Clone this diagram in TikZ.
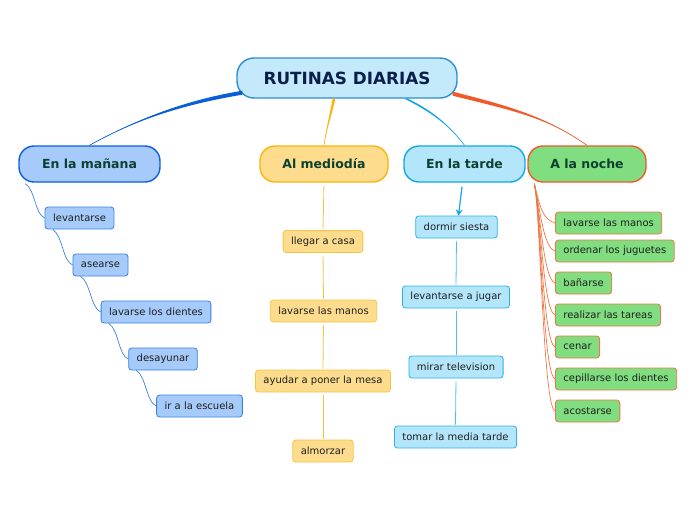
\documentclass[tikz,border=0pt]{standalone}
\usepackage{fontspec}
\setmainfont{DejaVu Sans}
\usepackage{xcolor}
\usepackage{tikz}
\usetikzlibrary{arrows.meta, calc}
\definecolor{RootFill}{HTML}{C4E9FB}
\definecolor{RootBorder}{HTML}{2B8FD0}
\definecolor{RootText}{HTML}{0B1F4B}
\definecolor{TopicText}{HTML}{0C4030}
\definecolor{SubText}{HTML}{1E1E1E}
\definecolor{ManFill}{HTML}{A6CBFA}
\definecolor{ManBorder}{HTML}{0A5FD9}
\definecolor{ManSub}{HTML}{3B82E0}
\definecolor{MedFill}{HTML}{FDDC8E}
\definecolor{MedBorder}{HTML}{FBB40A}
\definecolor{MedSub}{HTML}{F9C240}
\definecolor{TarFill}{HTML}{B4E6FB}
\definecolor{TarBorder}{HTML}{13A6E6}
\definecolor{TarSub}{HTML}{2DB1EB}
\definecolor{NocFill}{HTML}{80DE80}
\definecolor{NocBorder}{HTML}{F05A28}
\definecolor{NocSub}{HTML}{EE7744}

\tikzset{
  rootbox/.style={rounded corners=17pt, fill=RootFill, draw=RootBorder,
    line width=1.4pt, minimum width=220pt, minimum height=40pt,
    font=\fontsize{16.8}{18}\selectfont\bfseries, text=RootText},
  topic/.style={rounded corners=15pt, line width=1.4pt, minimum height=36pt,
    inner sep=0pt, font=\fontsize{12.5}{14}\selectfont\bfseries, text=TopicText},
  sub/.style={rounded corners=3pt, line width=0.8pt, minimum height=22pt,
    inner xsep=8pt, inner ysep=0pt, font=\fontsize{10}{12}\selectfont, text=SubText},
  mansub/.style={sub, fill=ManFill, draw=ManSub},
  medsub/.style={sub, fill=MedFill, draw=MedSub},
  tarsub/.style={sub, fill=TarFill, draw=TarSub},
  nocsub/.style={sub, fill=NocFill, draw=NocSub},
  manline/.style={draw=ManSub, line width=0.7pt},
  medline/.style={draw=MedSub, line width=0.8pt, shorten <=3pt, shorten >=1pt},
  tarline/.style={draw=TarSub!85, line width=0.8pt, shorten <=3pt, shorten >=1pt},
  nocline/.style={draw=NocSub, line width=0.7pt},
}

\begin{document}
\begin{tikzpicture}[x=1pt,y=-1pt]
  \useasboundingbox (0,0) rectangle (696,520);

  % central topic and the four parts of the day
  \node[rootbox] (root) at (347,78) {RUTINAS DIARIAS};
  \node[topic, fill=ManFill, draw=ManBorder, minimum width=141pt] (manana) at (89.5,164) {En la mañana};
  \node[topic, fill=MedFill, draw=MedBorder, minimum width=128pt] (mediodia) at (324,164) {Al mediodía};
  \node[topic, fill=TarFill, draw=TarBorder, minimum width=121pt] (tarde) at (464.5,164) {En la tarde};
  \node[topic, fill=NocFill, draw=NocBorder, minimum width=118pt] (noche) at (587,164) {A la noche};

  % tapered branches
  \coordinate (rM) at ([xshift=6pt,yshift=6pt]root.south west);
  \coordinate (rD) at ([xshift=-13pt]root.south);
  \coordinate (rT) at ([xshift=59pt]root.south);
  \coordinate (rN) at ([xshift=-5pt,yshift=5pt]root.south east);
  \fill[ManBorder] ([yshift=2pt]rM) .. controls +(-60,10) and +(45,-25) .. (manana.north)
    .. controls +(45,-25) and +(-60,10) .. ([yshift=-2pt]rM) -- cycle;
  \draw[ManBorder, line width=0.6pt] (rM) .. controls +(-60,10) and +(45,-25) .. (manana.north);
  \fill[MedBorder] ([xshift=1.3pt]rD) .. controls +(-3,15) and +(2,-15) .. (mediodia.north)
    .. controls +(2,-15) and +(-3,15) .. ([xshift=-1.3pt]rD) -- cycle;
  \draw[MedBorder, line width=0.6pt] (rD) .. controls +(-3,15) and +(2,-15) .. (mediodia.north);
  \fill[TarBorder] ([xshift=1.8pt]rT) .. controls +(25,12) and +(-15,-20) .. (tarde.north)
    .. controls +(-15,-20) and +(25,12) .. ([xshift=-1.8pt]rT) -- cycle;
  \draw[TarBorder, line width=0.6pt] (rT) .. controls +(25,12) and +(-15,-20) .. (tarde.north);
  \fill[NocBorder] ([yshift=2pt]rN) .. controls +(60,15) and +(-40,-28) .. (noche.north)
    .. controls +(-40,-28) and +(60,15) .. ([yshift=-2pt]rN) -- cycle;
  \draw[NocBorder, line width=0.6pt] (rN) .. controls +(60,15) and +(-40,-28) .. (noche.north);

  % En la mañana
  \node[mansub] (m1) at (79.5,218) {levantarse};
  \node[mansub] (m2) at (100.5,265) {asearse};
  \node[mansub] (m3) at (156,312) {lavarse los dientes};
  \node[mansub] (m4) at (163,359) {desayunar};
  \node[mansub] (m5) at (199.5,406) {ir a la escuela};
  \draw[manline] ([xshift=7pt,yshift=-1pt]manana.south west) .. controls +(10,6) and +(-10,-4) .. (m1.west);
  \draw[manline] ([xshift=8pt]m1.south west) .. controls +(10,6) and +(-10,-4) .. (m2.west);
  \draw[manline] ([xshift=8pt]m2.south west) .. controls +(10,6) and +(-10,-4) .. (m3.west);
  \draw[manline] ([xshift=8pt]m3.south west) .. controls +(10,6) and +(-10,-4) .. (m4.west);
  \draw[manline] ([xshift=8pt]m4.south west) .. controls +(10,6) and +(-10,-4) .. (m5.west);

  % Al mediodía
  \node[medsub] (d1) at (323,241.5) {llegar a casa};
  \node[medsub] (d2) at (323.5,311) {lavarse las manos};
  \node[medsub] (d3) at (323,381) {ayudar a poner la mesa};
  \node[medsub] (d4) at (323,451) {almorzar};
  \draw[medline] (mediodia.south) -- (d1.north);
  \draw[medline] (d1.south) -- (d2.north);
  \draw[medline] (d2.south) -- (d3.north);
  \draw[medline] (d3.south) -- (d4.north);

  % En la tarde
  \node[tarsub] (t1) at (456.5,227) {dormir siesta};
  \node[tarsub] (t2) at (456,297) {levantarse a jugar};
  \node[tarsub] (t3) at (456,367) {mirar television};
  \node[tarsub] (t4) at (455.5,437) {tomar la media tarde};
  \draw[TarBorder, line width=1.2pt, shorten <=4pt, -{Stealth[length=6pt,width=7pt]}]
    ([xshift=-2pt]tarde.south) -- ([xshift=2pt]t1.north);
  \draw[tarline] (t1.south) -- (t2.north);
  \draw[tarline] (t2.south) -- (t3.north);
  \draw[tarline] (t3.south) -- (t4.north);

  % A la noche
  \node[nocsub, anchor=west] (n1) at (555,223) {lavarse las manos};
  \node[nocsub, anchor=west] (n2) at (555,251) {ordenar los juguetes};
  \node[nocsub, anchor=west] (n3) at (555,283) {bañarse};
  \node[nocsub, anchor=west] (n4) at (555,315) {realizar las tareas};
  \node[nocsub, anchor=west] (n5) at (555,347) {cenar};
  \node[nocsub, anchor=west] (n6) at (555,379) {cepillarse los dientes};
  \node[nocsub, anchor=west] (n7) at (555,411) {acostarse};
  \coordinate (nS) at ([xshift=7pt,yshift=-1pt]noche.south west);
  \foreach \k in {1,...,7}
    \draw[nocline] (nS) .. controls +(6,25) and +(-12,-4) .. (n\k.west);
\end{tikzpicture}
\end{document}
